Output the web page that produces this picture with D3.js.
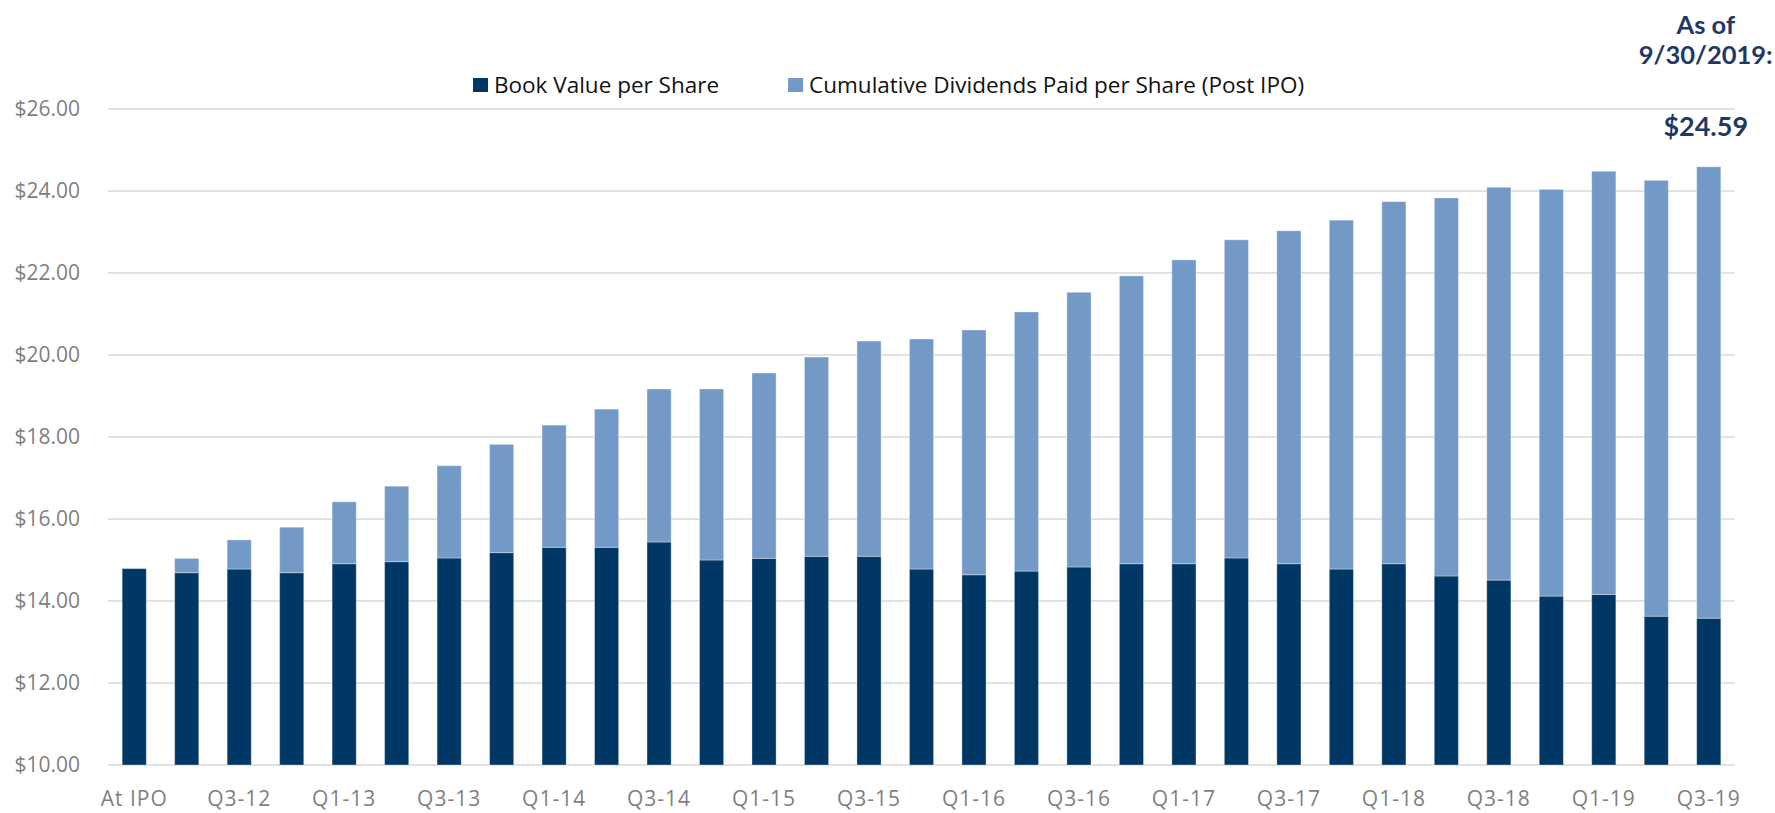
<!DOCTYPE html>
<html>
<head>
<meta charset="utf-8">
<script src="https://cdn.jsdelivr.net/npm/d3@7/dist/d3.min.js"></script>
<style>
  html, body { margin: 0; padding: 0; background: #fff; }
  svg { display: block; }
</style>
</head>
<body>
<div id="chart"></div>
<script>
// 数据
const categories = [
  "At IPO", "Q2-12", "Q3-12", "Q4-12",
  "Q1-13", "Q2-13", "Q3-13", "Q4-13",
  "Q1-14", "Q2-14", "Q3-14", "Q4-14",
  "Q1-15", "Q2-15", "Q3-15", "Q4-15",
  "Q1-16", "Q2-16", "Q3-16", "Q4-16",
  "Q1-17", "Q2-17", "Q3-17", "Q4-17",
  "Q1-18", "Q2-18", "Q3-18", "Q4-18",
  "Q1-19", "Q2-19", "Q3-19"
];
const bookValue = [
  14.79, 14.69, 14.78, 14.69, 14.91, 14.96, 15.05, 15.18,
  15.31, 15.31, 15.44, 15.00, 15.04, 15.09, 15.09, 14.78,
  14.64, 14.73, 14.83, 14.91, 14.91, 15.05, 14.91, 14.78,
  14.91, 14.61, 14.51, 14.12, 14.16, 13.63, 13.58
];
const cumDividends = [
  0.00, 0.35, 0.71, 1.11, 1.51, 1.84, 2.25, 2.64,
  2.98, 3.37, 3.73, 4.17, 4.52, 4.86, 5.25, 5.61,
  5.97, 6.32, 6.70, 7.02, 7.41, 7.76, 8.12, 8.51,
  8.83, 9.22, 9.58, 9.92, 10.32, 10.63, 11.01
];
const yTicks = [10, 12, 14, 16, 18, 20, 22, 24, 26];
const seriesNames = ["Book Value per Share", "Cumulative Dividends Paid per Share (Post IPO)"];
const seriesColors = ["#003764", "#7399c6"];
const asOfLines = ["As of", "9/30/2019:"];
const asOfValue = "$24.59";

const width = 1775, height = 813;
const margin = { left: 108, right: 40, top: 109, bottom: 48 };

const svg = d3.select("#chart").append("svg")
  .attr("width", width)
  .attr("height", height);

// 比例尺
const x = d3.scaleBand()
  .domain(categories)
  .range([margin.left, width - margin.right])
  .paddingInner(0.54)
  .paddingOuter(0.27);

const y = d3.scaleLinear()
  .domain([10, 26])
  .range([height - margin.bottom, margin.top]);

// 网格线
svg.append("g")
  .selectAll("line")
  .data(yTicks)
  .join("line")
  .attr("x1", margin.left)
  .attr("x2", width - margin.right)
  .attr("y1", d => y(d))
  .attr("y2", d => y(d))
  .attr("stroke", "#d9d9d9")
  .attr("stroke-width", 1.5);

// y 轴
const yAxis = svg.append("g")
  .attr("transform", `translate(${margin.left - 28},0)`)
  .call(d3.axisLeft(y).tickValues(yTicks).tickSize(0).tickPadding(0).tickFormat(d3.format("$.2f")));
yAxis.select(".domain").remove();
yAxis.selectAll("text")
  .attr("fill", "#7f7f7f")
  .style("font-family", "'Open Sans', sans-serif")
  .style("font-size", "21px");

// x 轴，隔一个显示
const xAxis = svg.append("g")
  .attr("transform", `translate(0,${height - margin.bottom})`)
  .call(d3.axisBottom(x).tickValues(categories.filter((d, i) => i % 2 === 0)).tickSize(0).tickPadding(26));
xAxis.select(".domain").remove();
xAxis.selectAll("text")
  .attr("fill", "#7f7f7f")
  .style("font-family", "'Open Sans', sans-serif")
  .style("font-size", "21px")
  .style("letter-spacing", "1px");

// 堆叠
const rows = categories.map((c, i) => ({ cat: c, bv: bookValue[i], div: cumDividends[i] }));
const stack = d3.stack().keys(["bv", "div"]);
const layers = stack(rows);

svg.append("g")
  .selectAll("g")
  .data(layers)
  .join("g")
  .attr("fill", (d, i) => seriesColors[i])
  .selectAll("rect")
  .data(d => d)
  .join("rect")
  .attr("x", d => x(d.data.cat))
  .attr("width", x.bandwidth())
  .attr("y", d => y(Math.max(d[1], 10)))
  .attr("height", d => Math.max(0, y(Math.max(d[0], 10)) - y(Math.max(d[1], 10))))
  .attr("stroke", "#ffffff")
  .attr("stroke-opacity", 0.35)
  .attr("stroke-width", 1);

// 图例
const legend = svg.append("g").attr("transform", "translate(473,78)");
let lx = 0;
seriesNames.forEach((name, i) => {
  const item = legend.append("g").attr("transform", `translate(${lx},0)`);
  item.append("rect")
    .attr("width", 15)
    .attr("height", 14)
    .attr("fill", seriesColors[i]);
  const t = item.append("text")
    .attr("x", 21)
    .attr("y", 7)
    .attr("dy", "0.35em")
    .attr("fill", "#111")
    .style("font-family", "'Open Sans', sans-serif")
    .style("font-size", "22.5px")
    .text(name);
  lx += 21 + t.node().getComputedTextLength() + 69;
});

// 右上角标注
const cx = x(categories[categories.length - 1]) + x.bandwidth() / 2 - 3;
const note = svg.append("g")
  .attr("fill", "#1f3864")
  .attr("text-anchor", "middle")
  .style("font-family", "Lato, sans-serif")
  .style("font-weight", "bold");
asOfLines.forEach((s, i) => {
  note.append("text")
    .attr("x", cx)
    .attr("y", 25 + i * 30)
    .attr("dy", "0.35em")
    .style("font-size", "25.5px")
    .text(s);
});
note.append("text")
  .attr("x", cx)
  .attr("y", 127)
  .attr("dy", "0.35em")
  .style("font-size", "27px")
  .text(asOfValue);
</script>
</body>
</html>
